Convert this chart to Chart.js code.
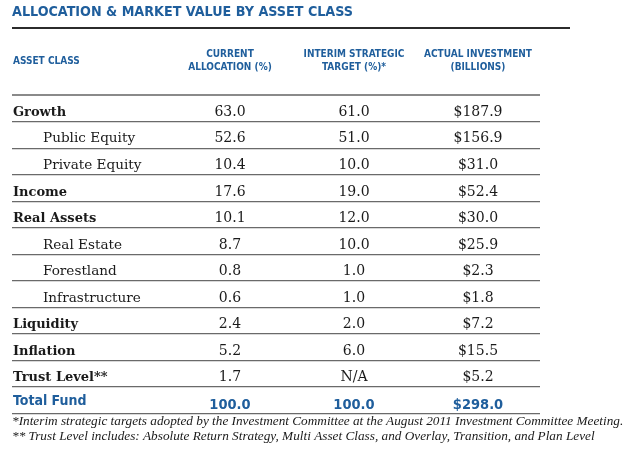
<!DOCTYPE html>
<html>
<head>
<meta charset="utf-8">
<script src="https://cdn.jsdelivr.net/npm/chart.js@4.4.1/dist/chart.umd.min.js"></script>
<style>
  html, body { margin: 0; padding: 0; background: #ffffff; }
  #wrap { width: 640px; height: 454px; }
</style>
</head>
<body>
<div id="wrap"><canvas id="myChart" width="640" height="454"></canvas></div>
<script>
/* ---- datos de la tabla ---- */
const rowLabels = ["Growth", "Public Equity", "Private Equity", "Income", "Real Assets", "Real Estate",
	"Forestland", "Infrastructure", "Liquidity", "Inflation", "Trust Level**", "Total Fund"];
// 0 = clase principal, 1 = subclase (sangria), 2 = total
const rowLevel = [0, 1, 1, 0, 0, 1, 1, 1, 0, 0, 0, 2];
const currentAllocation = [63.0, 52.6, 10.4, 17.6, 10.1, 8.7, 0.8, 0.6, 2.4, 5.2, 1.7, 100.0];
const interimTarget = [61.0, 51.0, 10.0, 19.0, 12.0, 10.0, 1.0, 1.0, 2.0, 6.0, null, 100.0];
const actualInvestment = [187.9, 156.9, 31.0, 52.4, 30.0, 25.9, 2.3, 1.8, 7.2, 15.5, 5.2, 298.0];
const columnHeaders = [["CURRENT", "ALLOCATION (%)"], ["INTERIM STRATEGIC", "TARGET (%)*"], ["ACTUAL INVESTMENT", "(BILLIONS)"]];
const firstHeader = "ASSET CLASS";
const chartTitle = "ALLOCATION & MARKET VALUE BY ASSET CLASS";
const footnotes = [
	"*Interim strategic targets adopted by the Investment Committee at the August 2011 Investment Committee Meeting.",
	"** Trust Level includes: Absolute Return Strategy, Multi Asset Class, and Overlay, Transition, and Plan Level"
];

const BLUE = "#1f5e9c";
const INK = "#1a1a1a";
const SANS_C = "'Liberation Sans Narrow', 'DejaVu Sans Condensed', sans-serif";
const SERIF = "'DejaVu Serif', serif";

function fmtPct(v) { return v === null ? "N/A" : v.toFixed(1); }
function fmtMoney(v) { return v === null ? "N/A" : "$" + v.toFixed(1); }

const columns = [
	{ values: currentAllocation, fmt: fmtPct },
	{ values: interimTarget, fmt: fmtPct },
	{ values: actualInvestment, fmt: fmtMoney },
];

/* ---- plugin que escribe el texto de cada celda ---- */
const tablePlugin = {
	id: "tableText",
	afterDraw(chart) {
		const ctx = chart.ctx;
		const area = chart.chartArea;
		const yScale = chart.scales.y;
		ctx.save();

		// linea gruesa bajo el titulo
		const tb = chart.titleBlock;
		ctx.strokeStyle = "#2b2b2b";
		ctx.lineWidth = 2;
		ctx.beginPath();
		ctx.moveTo(area.left, tb.top + 28);
		ctx.lineTo(area.left + 558, tb.top + 28);
		ctx.stroke();

		// encabezado de la primera columna
		ctx.font = "bold 10px " + SANS_C;
		ctx.fillStyle = BLUE;
		ctx.textAlign = "left";
		ctx.textBaseline = "middle";
		ctx.fillText(firstHeader, area.left + 1, 61);

		// etiquetas de fila
		rowLabels.forEach((lab, i) => {
			const y = yScale.getPixelForValue(i);
			ctx.textBaseline = "alphabetic";
			if (rowLevel[i] === 2) {
				ctx.font = "bold 14px " + SANS_C;
				ctx.fillStyle = BLUE;
				ctx.fillText(lab, area.left + 1, y + 4.5);
			} else if (rowLevel[i] === 1) {
				ctx.font = "13.6px " + SERIF;
				ctx.fillStyle = INK;
				ctx.fillText(lab, area.left + 31, y + 7.5);
			} else {
				ctx.font = "bold 13px " + SERIF;
				ctx.fillStyle = INK;
				ctx.fillText(lab, area.left + 1, y + 7.5);
			}
		});

		// valores, en la posicion de cada punto
		chart.data.datasets.forEach((ds, di) => {
			const meta = chart.getDatasetMeta(di);
			const col = columns[di];
			meta.data.forEach((pt, i) => {
				const txt = col.fmt(col.values[i]);
				ctx.textAlign = "center";
				ctx.textBaseline = "alphabetic";
				if (rowLevel[i] === 2) {
					ctx.font = "bold 14.5px " + SANS_C;
					ctx.fillStyle = BLUE;
					ctx.fillText(txt, pt.x, pt.y + 8.5);
				} else {
					ctx.font = "14px " + SERIF;
					ctx.fillStyle = INK;
					ctx.fillText(txt, pt.x, pt.y + 7.5);
				}
			});
		});

		// notas al pie
		ctx.font = "italic 13.25px 'Liberation Serif', serif";
		ctx.fillStyle = INK;
		ctx.textAlign = "left";
		ctx.textBaseline = "alphabetic";
		footnotes.forEach((f, k) => {
			ctx.fillText(f, area.left, area.bottom + 12 + k * 15, 616);
		});
		ctx.restore();
	}
};

const ctx = document.getElementById("myChart").getContext("2d");
let myChart = new Chart(ctx, {
	type: "scatter",
	data: {
		datasets: columns.map((col, c) => ({
			label: columnHeaders[c].join(" "),
			data: rowLabels.map((lab) => ({ x: c + 1, y: lab })),
			pointRadius: 0,
			pointHoverRadius: 0,
		})),
	},
	options: {
		responsive: false,
		animation: false,
		events: [],
		layout: { padding: { left: 12, right: 100, top: 0, bottom: 40.7 } },
		plugins: {
			legend: { display: false },
			tooltip: { enabled: false },
			title: {
				display: true,
				text: chartTitle,
				align: "start",
				color: BLUE,
				font: { family: SANS_C, size: 14.2, weight: "bold", lineHeight: 1.2 },
				padding: { top: 4, bottom: 13.8 },
			},
		},
		scales: {
			x: {
				type: "linear",
				position: "top",
				min: -0.758,
				max: 3.5,
				grid: { display: false },
				border: { display: false },
				afterBuildTicks: (axis) => {
					axis.ticks = columnHeaders.map((h, k) => ({ value: k + 1 }));
				},
				ticks: {
					autoSkip: false,
					maxRotation: 0,
					padding: 12.5,
					color: BLUE,
					font: { family: SANS_C, size: 10, weight: "bold", lineHeight: 1.37 },
					callback: (v) => columnHeaders[v - 1],
				},
			},
			y: {
				type: "category",
				labels: rowLabels,
				offset: true,
				border: { display: false },
				ticks: { display: false },
				grid: {
					offset: true,
					drawTicks: false,
					color: (c) => (c.index === 0 ? "#8a8a8a" : "#6a6a6a"),
					lineWidth: (c) => (c.index === 0 ? 2 : 1.3),
				},
			},
		},
	},
	plugins: [tablePlugin],
});
</script>
</body>
</html>
